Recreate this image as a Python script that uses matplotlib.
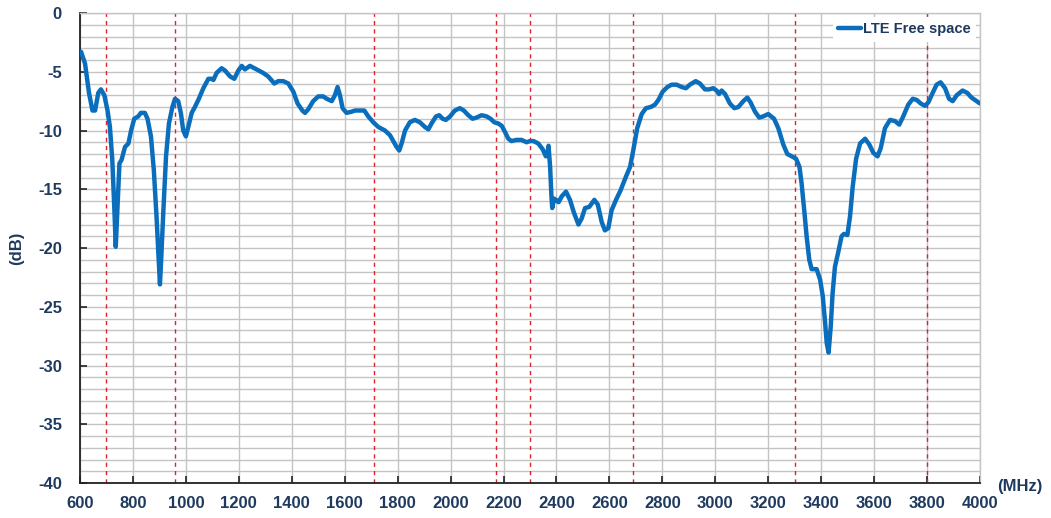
import numpy as np
import matplotlib
matplotlib.use("Agg")
import matplotlib.pyplot as plt
from matplotlib.ticker import MultipleLocator

# frequency (MHz) and level (dB)
freq = [604, 619, 634, 647, 657, 669, 679, 692, 704, 713, 722, 730, 735, 741, 749,
        757, 770, 783, 793, 805, 820, 830, 845, 855, 868, 879, 889, 898, 902, 906,
        915, 925, 936, 949, 959, 971, 981, 990, 1000, 1009, 1022, 1034, 1049, 1066,
        1085, 1097, 1104, 1116, 1135, 1148, 1167, 1183, 1198, 1211, 1223, 1242, 1267,
        1292, 1311, 1334, 1349, 1368, 1387, 1406, 1422, 1440, 1450, 1462, 1481, 1500,
        1519, 1532, 1551, 1563, 1573, 1582, 1592, 1607, 1626, 1639, 1658, 1674, 1689,
        1708, 1727, 1752, 1771, 1786, 1796, 1806, 1815, 1828, 1846, 1865, 1884, 1903,
        1916, 1928, 1945, 1957, 1970, 1982, 1998, 2016, 2035, 2050, 2067, 2083, 2098,
        2117, 2136, 2151, 2165, 2180, 2193, 2205, 2218, 2230, 2249, 2268, 2287, 2300,
        2313, 2331, 2348, 2360, 2367, 2370, 2376, 2381, 2384, 2391, 2398, 2408, 2420,
        2436, 2451, 2466, 2483, 2495, 2508, 2524, 2543, 2556, 2571, 2583, 2596, 2608,
        2625, 2642, 2663, 2678, 2690, 2705, 2722, 2738, 2756, 2772, 2785, 2801, 2819,
        2835, 2854, 2873, 2889, 2904, 2926, 2942, 2961, 2977, 2992, 3005, 3014, 3024,
        3037, 3055, 3072, 3087, 3106, 3121, 3133, 3150, 3166, 3181, 3200, 3222, 3238,
        3257, 3272, 3289, 3305, 3318, 3326, 3336, 3345, 3355, 3364, 3383, 3396, 3406,
        3415, 3421, 3428, 3436, 3443, 3452, 3465, 3477, 3486, 3499, 3509, 3519, 3532,
        3547, 3566, 3582, 3597, 3613, 3625, 3641, 3660, 3679, 3695, 3710, 3729, 3746,
        3761, 3776, 3792, 3805, 3817, 3836, 3851, 3868, 3883, 3897, 3912, 3934, 3952,
        3968, 3987, 4000]
level = [-3.3, -4.3, -6.8, -8.3, -8.3, -6.8, -6.5, -7.0, -8.3, -9.7, -12.5, -16.8, -19.9,
         -16.8, -12.8, -12.5, -11.4, -11.1, -10.0, -9.0, -8.8, -8.5, -8.5, -9.0, -10.5,
         -13.4, -17.3, -21.3, -23.1, -21.3, -16.8, -12.2, -9.4, -8.0, -7.3, -7.5, -8.5,
         -10.0, -10.5, -9.7, -8.5, -8.0, -7.3, -6.4, -5.6, -5.6, -5.7, -5.1, -4.7, -4.9,
         -5.4, -5.6, -4.9, -4.5, -4.8, -4.5, -4.8, -5.1, -5.4, -6.0, -5.8, -5.8, -6.0,
         -6.7, -7.7, -8.3, -8.5, -8.2, -7.5, -7.1, -7.1, -7.3, -7.5, -7.0, -6.3, -7.0,
         -8.1, -8.5, -8.4, -8.3, -8.3, -8.3, -8.8, -9.3, -9.7, -10.0, -10.4, -11.0, -11.4,
         -11.7, -11.1, -10.0, -9.3, -9.1, -9.3, -9.7, -9.9, -9.4, -8.8, -8.7, -9.0, -9.1,
         -8.8, -8.3, -8.1, -8.3, -8.7, -9.0, -8.9, -8.7, -8.8, -9.0, -9.3, -9.4, -9.6,
         -10.1, -10.7, -10.9, -10.8, -10.8, -11.0, -10.9, -10.9, -11.1, -11.6, -12.2,
         -11.8, -11.3, -13.1, -15.6, -16.6, -15.8, -15.9, -16.1, -15.6, -15.2, -15.9,
         -17.0, -18.0, -17.5, -16.6, -16.5, -15.9, -16.3, -17.8, -18.5, -18.3, -16.8,
         -15.9, -15.1, -13.9, -13.1, -11.7, -9.8, -8.6, -8.1, -8.0, -7.8, -7.4, -6.7,
         -6.3, -6.1, -6.1, -6.3, -6.4, -6.1, -5.8, -6.0, -6.5, -6.5, -6.4, -6.6, -6.9,
         -6.6, -6.9, -7.7, -8.1, -8.0, -7.5, -7.2, -7.6, -8.4, -8.9, -8.8, -8.6, -9.0,
         -9.8, -11.2, -12.0, -12.2, -12.4, -13.1, -14.5, -16.8, -19.0, -21.0, -21.8,
         -21.8, -22.7, -24.1, -26.4, -28.1, -28.9, -26.7, -23.9, -21.6, -20.3, -19.0,
         -18.8, -18.9, -17.3, -14.8, -12.4, -11.1, -10.7, -11.2, -11.9, -12.2, -11.5,
         -9.8, -9.1, -9.2, -9.5, -8.8, -7.8, -7.3, -7.4, -7.7, -7.9, -7.6, -7.0, -6.1,
         -5.9, -6.4, -7.3, -7.5, -7.0, -6.6, -6.8, -7.2, -7.5, -7.7]

# band edges marked with red dashed lines
band_edges = [700, 960, 1710, 2170, 2300, 2690, 3300, 3800]

navy = "#1F3A5F"
plt.rcParams["font.family"] = ["Liberation Sans", "DejaVu Sans"]
plt.rcParams["font.weight"] = "bold"
plt.rcParams["axes.unicode_minus"] = False

fig = plt.figure(figsize=(10.51, 5.18), dpi=100)
ax = fig.add_axes([80 / 1051, 35 / 518, 900 / 1051, 470 / 518])

ax.set_xlim(600, 4000)
ax.set_ylim(-40, 0)
ax.xaxis.set_major_locator(MultipleLocator(200))
ax.yaxis.set_major_locator(MultipleLocator(5))
ax.yaxis.set_minor_locator(MultipleLocator(1))

ax.grid(axis="x", which="major", color="#C4C4C4", linewidth=1.0)
ax.grid(axis="y", which="both", color="#C4C4C4", linewidth=1.0)
ax.set_axisbelow(True)

for x in band_edges:
    ax.axvline(x, color="#E0202A", linewidth=1.0, linestyle=(0, (3, 3)), zorder=2)

ax.plot(freq, level, color="#0A6EBD", linewidth=3.2, solid_capstyle="round",
        solid_joinstyle="round", label="LTE Free space", zorder=3)

ax.tick_params(axis="both", which="major", direction="in", length=5, width=1.2,
               color="#222222", labelsize=12, labelcolor=navy)
ax.tick_params(axis="y", which="minor", length=0)
ax.tick_params(axis="y", which="major", pad=13)
ax.tick_params(axis="x", which="major", pad=9)

for s in ["top", "right"]:
    ax.spines[s].set_color("#C4C4C4")
    ax.spines[s].set_linewidth(1.0)
for s in ["left", "bottom"]:
    ax.spines[s].set_color("#222222")
    ax.spines[s].set_linewidth(1.3)

ax.set_ylabel("(dB)", fontsize=12, color=navy, fontweight="bold")
ax.yaxis.set_label_coords(-0.062, 0.5)
fig.text(1020 / 1051, 1 - 487 / 518, "(MHz)", fontsize=12, color=navy,
         fontweight="bold", ha="center", va="center")

leg = ax.legend(loc="upper right", fontsize=10.5, frameon=True, fancybox=False,
                handlelength=1.6, handletextpad=0.1, borderpad=0.35,
                borderaxespad=0.3)
leg.get_frame().set_facecolor("white")
leg.get_frame().set_edgecolor("none")
leg.get_frame().set_alpha(1.0)
for t in leg.get_texts():
    t.set_color(navy)

fig.savefig("out.png", dpi=100)
